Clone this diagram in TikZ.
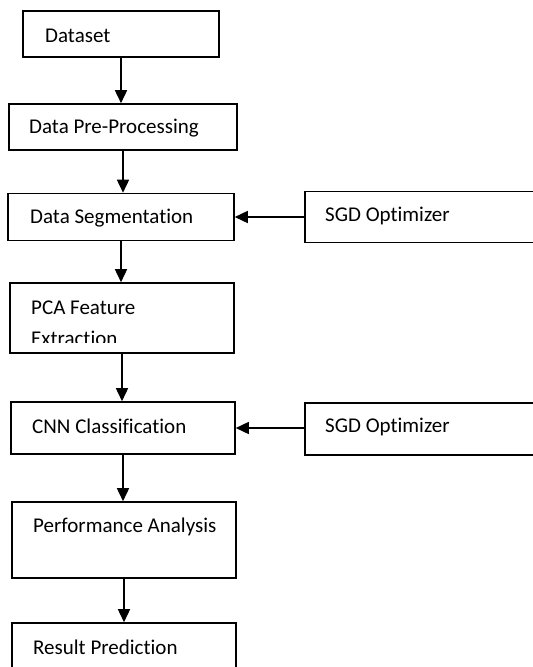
\documentclass[tikz,border=0pt]{standalone}
\usepackage{fontspec}
\setmainfont[Ligatures={NoCommon}]{Carlito}
\usetikzlibrary{arrows.meta}
\begin{document}
\begin{tikzpicture}[x=1pt,y=-1pt,
  box/.style={draw=black,line width=1.6pt,rectangle,inner sep=0pt},
  lbl/.style={anchor=west,inner sep=0pt,font=\fontsize{21}{25}\selectfont},
  flow/.style={line width=1.6pt,-{Triangle[width=12pt,length=13pt]}}]
\clip (0,0) rectangle (533,667);
\useasboundingbox (0,0) rectangle (533,667);
\fill[white] (0,0) rectangle (533,667);
% boxes
\node[box,minimum width=196pt,minimum height=46pt] (ds) at (121,34) {};
\node[box,minimum width=228pt,minimum height=46pt] (pp) at (123,127) {};
\node[box,minimum width=226pt,minimum height=47pt] (seg) at (121,217) {};
\node[box,minimum width=224pt,minimum height=70pt] (pca) at (122,318) {};
\node[box,minimum width=224pt,minimum height=52pt] (cnn) at (123,428) {};
\node[box,minimum width=224pt,minimum height=76pt] (perf) at (124,540) {};
\node[box,minimum width=224pt,minimum height=70pt] (res) at (124,658) {};
\node[box,minimum width=255pt,minimum height=51pt] (sgda) at (432.5,217) {};
\node[box,minimum width=255pt,minimum height=52pt] (sgdb) at (432.5,429) {};
% labels
\node[lbl] at (45,36) {Dataset};
\node[lbl] at (29,128) {Data Pre-Processing};
\node[lbl] at (30,218) {Data Segmentation};
\node[lbl] at (31,308) {PCA Feature};
\begin{scope}
\clip (12,285) rectangle (232,342.5);
\node[lbl] at (31,338) {Extraction};
\end{scope}
\node[lbl] at (32,426) {CNN Classification};
\node[lbl] at (33,527) {Performance Analysis};
\node[lbl] at (33,647) {Result Prediction};
\node[lbl] at (325,216) {SGD Optimizer};
\node[lbl] at (325,427) {SGD Optimizer};
% connectors
\draw[flow] (ds.south) -- (ds.south |- pp.north);
\draw[flow] (pp.south) -- (pp.south |- seg.north);
\draw[flow] (seg.south) -- (seg.south |- pca.north);
\draw[flow] (pca.south) -- (pca.south |- cnn.north);
\draw[flow] (cnn.south) -- (cnn.south |- perf.north);
\draw[flow] (perf.south) -- (perf.south |- res.north);
\draw[flow] (sgda.west) -- (sgda.west -| seg.east);
\draw[flow] (sgdb.west |- cnn.east) -- (cnn.east);
\end{tikzpicture}
\end{document}
